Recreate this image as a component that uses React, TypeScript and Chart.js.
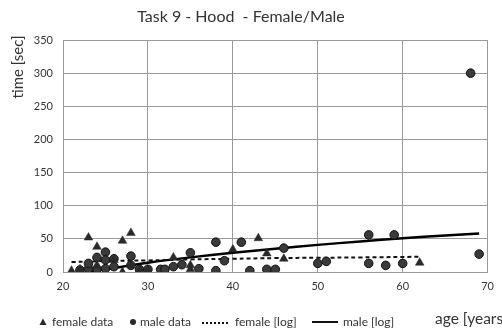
import React, { useEffect, useRef } from "react";
import { Chart, registerables } from "chart.js";
Chart.register(...registerables);

const titleText = "Task 9 - Hood  - Female/Male";
const yTitle = "time [sec]";
const xTitle = "age [years]";
const legendLabels = ["female data", "male data", "female [log]", "male [log]"];

const femaleAge = [21, 22, 23, 24, 24, 26, 27, 27, 28, 28, 29, 30, 33, 35, 35, 40, 43, 44, 46, 62];
const femaleTime = [2, 4, 52, 38, 10, 18, 47, 0, 59, 10, 3, 3, 22, 10, 4, 34, 51, 28, 20, 14];

const maleAge = [22, 23, 23, 24, 24, 25, 25, 25, 26, 26, 28, 28, 29, 30, 31.5, 32, 33, 34, 35, 36, 38, 38, 39, 41, 42, 44, 45, 46, 50, 51, 56, 56, 58, 59, 60, 68, 69];
const maleTime = [3, 5, 13, 22, 4, 30, 18, 5, 20, 8, 24, 10, 4, 4, 4, 4, 8, 11, 29, 5, 45, 2, 17, 45, 2, 4, 4, 36, 13, 16, 56, 13, 10, 56, 13, 300, 27];

const femaleLogAge = [21, 25, 30, 35, 40, 45, 50, 55, 62];
const femaleLogTime = [15, 16.5, 17.5, 19, 20, 21, 21.5, 22, 23];

const maleLogAge = [23, 25, 27, 30, 35, 40, 45, 50, 55, 60, 65, 69];
const maleLogTime = [0, 4, 8, 14, 22, 29, 35, 41, 46, 51, 55, 58];

const xMin = 20, xMax = 70, xStep = 10;
const yMin = 0, yMax = 350, yStep = 50;

const FONT = "Lato, 'Open Sans', sans-serif";
const TEXT = "#333";
const MARK = "#2a2a2a";
const GRID = "#9a9a9a";

const zip = (xs: number[], ys: number[]) => xs.map((x, i) => ({ x, y: ys[i] }));

const decor = {
  id: "decor",
  afterDraw(chart: any) {
    const ctx = chart.ctx as CanvasRenderingContext2D;
    ctx.save();
    ctx.fillStyle = TEXT;
    ctx.textBaseline = "middle";
    // title
    ctx.font = `16px ${FONT}`;
    ctx.textAlign = "center";
    ctx.fillText(titleText, 241, 17);
    // y title
    ctx.save();
    ctx.translate(18, 67);
    ctx.rotate(-Math.PI / 2);
    ctx.font = `15px ${FONT}`;
    ctx.fillText(yTitle, 0, 0);
    ctx.restore();
    // legend
    const ly = 322;
    ctx.textAlign = "left";
    ctx.font = `12px ${FONT}`;
    ctx.fillStyle = MARK;
    ctx.beginPath();
    ctx.moveTo(43, ly - 3.5);
    ctx.lineTo(46.5, ly + 3);
    ctx.lineTo(39.5, ly + 3);
    ctx.closePath();
    ctx.fill();
    ctx.fillStyle = TEXT;
    ctx.fillText(legendLabels[0], 52, ly);
    ctx.fillStyle = MARK;
    ctx.beginPath();
    ctx.arc(133, ly, 3, 0, Math.PI * 2);
    ctx.fill();
    ctx.fillStyle = TEXT;
    ctx.fillText(legendLabels[1], 140, ly);
    ctx.strokeStyle = "#111";
    ctx.lineWidth = 2;
    ctx.setLineDash([2, 2]);
    ctx.beginPath();
    ctx.moveTo(202, ly + 1);
    ctx.lineTo(230, ly + 1);
    ctx.stroke();
    ctx.setLineDash([]);
    ctx.fillText(legendLabels[2], 235, ly);
    ctx.beginPath();
    ctx.moveTo(312, ly);
    ctx.lineTo(338, ly);
    ctx.stroke();
    ctx.fillText(legendLabels[3], 343, ly);
    // x title
    ctx.font = `15.5px ${FONT}`;
    ctx.fillText(xTitle, 435, 319);
    ctx.restore();
  },
};

export default function App() {
  const ref = useRef<HTMLCanvasElement>(null);
  useEffect(() => {
    document.body.style.margin = "0";
    const chart = new Chart(ref.current!, {
      type: "scatter",
      data: {
        datasets: [
          {
            label: legendLabels[0],
            data: zip(femaleAge, femaleTime),
            pointStyle: "triangle",
            pointRadius: 5,
            backgroundColor: MARK,
            borderColor: MARK,
            borderWidth: 0.5,
          },
          {
            label: legendLabels[1],
            data: zip(maleAge, maleTime),
            pointStyle: "circle",
            pointRadius: 4.3,
            backgroundColor: "#3a3a3a",
            borderColor: "#111",
            borderWidth: 1,
          },
          {
            label: legendLabels[2],
            data: zip(femaleLogAge, femaleLogTime),
            showLine: true,
            pointRadius: 0,
            borderColor: "#111",
            borderWidth: 2,
            borderDash: [4, 3],
            tension: 0.4,
          },
          {
            label: legendLabels[3],
            data: zip(maleLogAge, maleLogTime),
            showLine: true,
            pointRadius: 0,
            borderColor: "#000",
            borderWidth: 2.4,
            tension: 0.4,
          },
        ],
      },
      options: {
        responsive: false,
        animation: false,
        layout: { padding: { top: 40, right: 5, left: 0, bottom: 0 } },
        plugins: { legend: { display: false }, title: { display: false }, tooltip: { enabled: false } },
        scales: {
          x: {
            type: "linear",
            min: xMin,
            max: xMax,
            afterFit: (s: any) => { s.height = 64; },
            ticks: { stepSize: xStep, padding: 8, color: TEXT, font: { family: FONT, size: 11 } },
            grid: { color: GRID, drawTicks: false, lineWidth: 1 },
            border: { color: GRID },
          },
          y: {
            min: yMin,
            max: yMax,
            afterFit: (s: any) => { s.width = 63; },
            ticks: { stepSize: yStep, padding: 10, color: TEXT, font: { family: FONT, size: 11 } },
            grid: { color: GRID, drawTicks: false, lineWidth: 1 },
            border: { color: GRID },
          },
        },
      },
      plugins: [decor],
    });
    return () => chart.destroy();
  }, []);
  return (
    <div style={{ width: 502, height: 336, background: "#fff" }}>
      <canvas ref={ref} width={502} height={336} />
    </div>
  );
}
